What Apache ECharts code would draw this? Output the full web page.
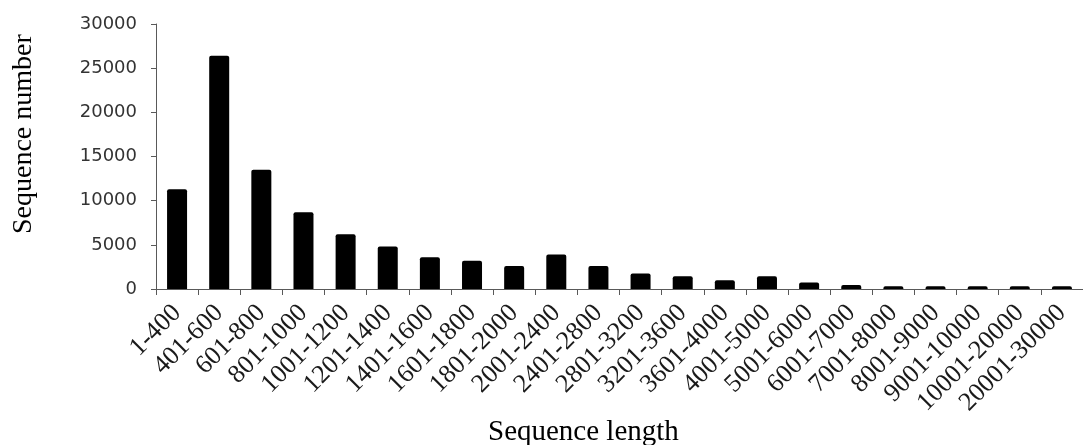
<!DOCTYPE html>
<html>
<head>
<meta charset="utf-8">
<script src="https://cdn.jsdelivr.net/npm/echarts@6/dist/echarts.min.js"></script>
<style>
html,body{margin:0;padding:0;background:#fff;}
#main{width:1083px;height:445px;}
</style>
</head>
<body>
<div id="main"></div>
<script>
var categories = ['1-400','401-600','601-800','801-1000','1001-1200','1201-1400','1401-1600','1601-1800','1801-2000','2001-2400','2401-2800','2801-3200','3201-3600','3601-4000','4001-5000','5001-6000','6001-7000','7001-8000','8001-9000','9001-10000','10001-20000','20001-30000'];
var counts = [11300, 26400, 13500, 8700, 6200, 4800, 3600, 3200, 2600, 3900, 2600, 1750, 1450, 1000, 1450, 750, 450, 300, 300, 300, 300, 300];
var yTicks = [0, 5000, 10000, 15000, 20000, 25000, 30000];
var xTitle = 'Sequence length';
var yTitle = 'Sequence number';

var chart = echarts.init(document.getElementById('main'), null, {renderer: 'canvas'});
chart.setOption({
  animation: false,
  backgroundColor: '#ffffff',
  grid: {left: 156, top: 24, right: -9, bottom: 156, containLabel: false},
  graphic: [
    {type: 'text', left: 598 - 110, top: 418, style: {text: xTitle, font: '29px "Liberation Serif"', fill: '#000', width: 220, align: 'center'}},
    {type: 'text', x: 10, y: 234, rotation: Math.PI / 2, style: {text: yTitle, font: '28px "Liberation Serif"', fill: '#000'}}
  ],
  xAxis: {
    type: 'category',
    data: categories,
    axisLine: {lineStyle: {color: '#595959', width: 1}},
    axisTick: {show: true, length: 6, lineStyle: {color: '#595959'}},
    axisLabel: {rotate: 45, interval: 0, margin: 20, color: '#1a1a1a', fontFamily: 'Liberation Serif', fontSize: 26}
  },
  yAxis: {
    type: 'value',
    min: yTicks[0],
    max: yTicks[yTicks.length - 1],
    interval: yTicks[1] - yTicks[0],
    axisLine: {show: true, lineStyle: {color: '#595959', width: 1}},
    axisTick: {show: true, length: 5, lineStyle: {color: '#595959'}},
    splitLine: {show: false},
    axisLabel: {margin: 19, color: '#333', fontFamily: 'DejaVu Sans', fontSize: 18, formatter: function (v) { return String(v); }}
  },
  series: [{
    type: 'bar',
    data: counts,
    barWidth: 20,
    itemStyle: {color: '#000', borderRadius: [2, 2, 0, 0]}
  }]
});
</script>
</body>
</html>
